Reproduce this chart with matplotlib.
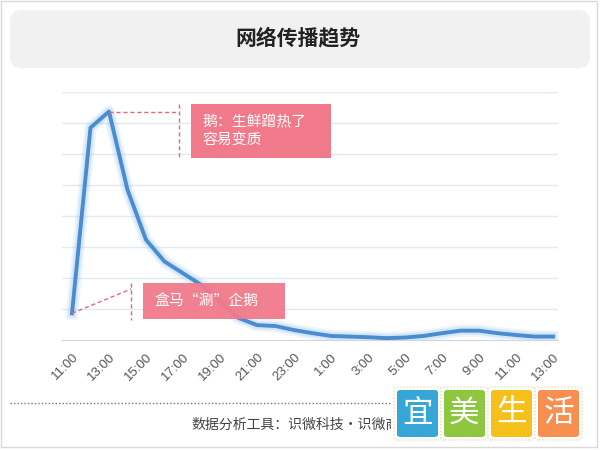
import numpy as np
import matplotlib.pyplot as plt
from matplotlib.patches import Rectangle, FancyBboxPatch

plt.rcParams['font.family'] = ['Noto Sans CJK SC', 'DejaVu Sans']

# data: hourly spread index, 11:00 to 13:00 next day
hours = np.arange(27)
values = [0.86, 6.84, 7.36, 4.84, 3.23, 2.53, 2.15, 1.77, 1.24, 0.71,
          0.48, 0.45, 0.32, 0.22, 0.13, 0.11, 0.09, 0.06, 0.08, 0.13,
          0.22, 0.30, 0.30, 0.22, 0.16, 0.11, 0.11]
tick_labels = ['11:00', '13:00', '15:00', '17:00', '19:00', '21:00', '23:00',
               '1:00', '3:00', '5:00', '7:00', '9:00', '11:00', '13:00']
title = '网络传播趋势'
note_peak = '鹅：生鲜蹭热了\n容易变质'
note_start = '盒马“涮”企鹅'
footer = '数据分析工具：识微科技・识微商'
logo_chars = ['宜', '美', '生', '活']
logo_colors = ['#35a6d6', '#8dc63f', '#f6c01c', '#f68f4f']

W, H = 600, 450
fig = plt.figure(figsize=(6, 4.5), dpi=100)


def fx(px):
    return px / W


def fy(py):
    return 1 - py / H


# outer frame
fig.patches.append(Rectangle((fx(1), fy(447)), fx(596), 446 / H, transform=fig.transFigure,
                             fill=False, edgecolor='#d9d9d9', lw=1))

# title bar
fig.patches.append(FancyBboxPatch((fx(10), fy(68)), fx(580), 58 / H, transform=fig.transFigure,
                                  boxstyle='round,pad=0,rounding_size=0.02',
                                  facecolor='#f1f1f1', edgecolor='none',
                                  mutation_aspect=W / H))
fig.text(0.497, fy(38), title, ha='center', va='center', fontsize=15,
         fontweight='bold', color='#222222')

# main axes
ax = fig.add_axes([fx(62), fy(340), fx(496), (340 - 91.7) / H])
ax.set_xlim(-0.54, 26.27)
ax.set_ylim(0, 8)
for v in range(1, 9):
    ax.axhline(v, color='#e2eaf1', lw=1, zorder=0)
for s in ['top', 'right', 'left']:
    ax.spines[s].set_visible(False)
ax.spines['bottom'].set_color('#cfd5da')
ax.set_yticks([])
ax.set_xticks(hours[::2])
ax.set_xticklabels(tick_labels, rotation=45, ha='right', rotation_mode='anchor',
                   fontsize=9.5, color='#555555', family=['Liberation Sans', 'DejaVu Sans'])
ax.tick_params(axis='x', length=0, pad=8)

# line with soft glow
ax.plot(hours, values, color='#9cc8f0', lw=9, alpha=0.18, solid_joinstyle='round', zorder=2)
ax.plot(hours, values, color='#9cc8f0', lw=6, alpha=0.3, solid_joinstyle='round', zorder=2)
ax.plot(hours, values, color='#4a8ccf', lw=2.8, solid_joinstyle='round', zorder=3)

# annotations
red = '#e06a7c'
box = '#f17a8a'
to_fig = ax.transData + fig.transFigure.inverted()

peak_x, peak_y = to_fig.transform((hours[2], values[2]))
fig.lines.append(plt.Line2D([peak_x, fx(179)], [peak_y, peak_y], transform=fig.transFigure,
                            color=red, lw=1, ls=(0, (3, 2))))
fig.lines.append(plt.Line2D([fx(179), fx(179)], [fy(104), fy(158)], transform=fig.transFigure,
                            color=red, lw=1, ls=(0, (3, 2))))
fig.patches.append(Rectangle((fx(191), fy(158)), fx(140), 54 / H, transform=fig.transFigure,
                             facecolor=box, edgecolor='none', zorder=5))
fig.text(fx(202), fy(131), note_peak, ha='left', va='center', fontsize=10.7,
         color='white', linespacing=1.35, zorder=6)

st_x, st_y = to_fig.transform((hours[0], values[0]))
fig.lines.append(plt.Line2D([st_x, fx(131)], [st_y, fy(289)], transform=fig.transFigure,
                            color=red, lw=1, ls=(0, (3, 2))))
fig.lines.append(plt.Line2D([fx(131), fx(131)], [fy(283), fy(320)], transform=fig.transFigure,
                            color=red, lw=1, ls=(0, (3, 2))))
fig.patches.append(Rectangle((fx(143), fy(319)), fx(142), 36 / H, transform=fig.transFigure,
                             facecolor=box, edgecolor='none', alpha=0.95, zorder=5))
fig.text(fx(154), fy(301), note_start, ha='left', va='center', fontsize=10.7,
         color='white', zorder=6)

# footer
fig.lines.append(plt.Line2D([fx(10), fx(394)], [fy(403), fy(403)], transform=fig.transFigure,
                            color='#777777', lw=1, ls=(0, (1, 1.5))))
fig.text(fx(191), fy(425), footer, ha='left', va='center', fontsize=10, color='#444444')

# logo
fig.patches.append(Rectangle((fx(391), fy(445)), fx(200), 58 / H, transform=fig.transFigure,
                             facecolor='white', edgecolor='none', zorder=6))
for i, (ch, c) in enumerate(zip(logo_chars, logo_colors)):
    x0 = 397 + i * 47
    fig.patches.append(FancyBboxPatch((fx(x0 - 3), fy(440)), fx(47), 53 / H, transform=fig.transFigure,
                                      boxstyle='round,pad=0,rounding_size=0.006',
                                      facecolor='white', edgecolor='#ece6cc', lw=1.2,
                                      ls=(0, (1, 1)), zorder=7))
    fig.patches.append(FancyBboxPatch((fx(x0), fy(437)), fx(41), 47 / H, transform=fig.transFigure,
                                      boxstyle='round,pad=0,rounding_size=0.006',
                                      facecolor=c, edgecolor='none', zorder=7))
    fig.text(fx(x0 + 20.5), fy(413), ch, ha='center', va='center', fontsize=22,
             color='white', zorder=8)

fig.savefig('out.png', dpi=100)
